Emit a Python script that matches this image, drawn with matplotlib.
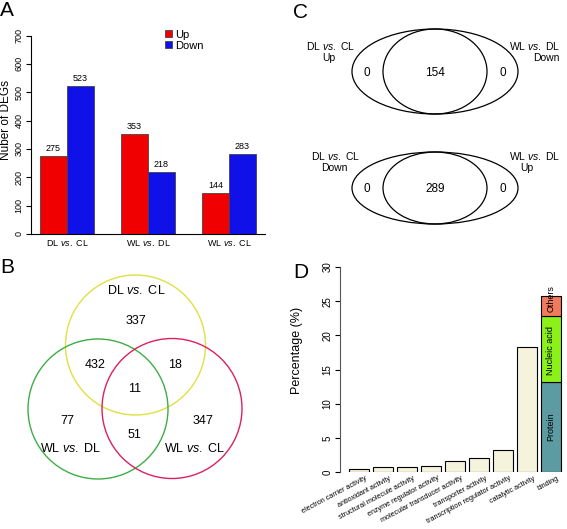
import matplotlib
matplotlib.use("Agg")
from matplotlib import pyplot as plt
from matplotlib.patches import Circle, Ellipse, Patch

plt.rcParams['font.family'] = ['Liberation Sans', 'DejaVu Sans']
plt.rcParams['mathtext.fontset'] = 'custom'
plt.rcParams['mathtext.rm'] = 'Liberation Sans'
plt.rcParams['mathtext.it'] = 'Liberation Sans:italic'
plt.rcParams['mathtext.bf'] = 'Liberation Sans:bold'

# ---- data ----
# A: number of DEGs
comparisons = [r"DL $\mathit{vs.}$ CL", r"WL $\mathit{vs.}$ DL", r"WL $\mathit{vs.}$ CL"]
up_counts = [275, 353, 144]
down_counts = [523, 218, 283]

# B: three-way venn (region counts)
venn3_sets = [r"DL $\mathit{vs.}$ CL", r"WL $\mathit{vs.}$ DL", r"WL $\mathit{vs.}$ CL"]
venn3_counts = {"dl_only": 337, "dl_wd": 432, "dl_wc": 18, "all": 11,
                "wd_only": 77, "wc_only": 347, "wd_wc": 51}

# C: two-way venns
venn_top = [0, 154, 0]
venn_bottom = [0, 289, 0]

# D: GO molecular function
go_terms = ["electron carrier activity", "antioxidant activity",
            "structural molecule activity", "enzyme regulator activity",
            "molecular transducer activity", "transporter activity",
            "transcription regulator activity", "catalytic activity"]
go_pct = [0.5, 0.7, 0.7, 0.9, 1.6, 2.0, 3.2, 18.3]
binding_parts = ["Protein", "Nucleic acid", "Others"]
binding_pct = [13.2, 9.6, 2.9]
binding_colors = ["#5c9ba2", "#8cf019", "#f27a5c"]

W, H = 567, 529
fig = plt.figure(figsize=(W / 100, H / 100), dpi=100)


def px_axes(l, t, r, b):
    return fig.add_axes([l / W, 1 - b / H, (r - l) / W, (b - t) / H])


# ---------- panel A ----------
axA = px_axes(31.4, 35.5, 264.6, 234)
xs = [1.5 + 3 * i for i in range(len(comparisons))]
b_up = axA.bar(xs, up_counts, width=1, color="#f00000", edgecolor="#444444", lw=0.6)
b_dn = axA.bar([x + 1 for x in xs], down_counts, width=1, color="#1010e8",
               edgecolor="#444444", lw=0.6)
for bars in (b_up, b_dn):
    for rect in bars:
        axA.annotate(f"{int(rect.get_height())}",
                     (rect.get_x() + rect.get_width() / 2, rect.get_height()),
                     xytext=(0, 2), textcoords="offset points",
                     ha="center", va="bottom", fontsize=6.5)
axA.set_xlim(0.68, 9.32)
axA.set_ylim(0, 700)
axA.set_yticks(range(0, 701, 100))
axA.tick_params(axis="y", labelsize=6.5, length=3.5, width=0.8, pad=2, labelrotation=90)
for lab in axA.get_yticklabels():
    lab.set_va("center")
axA.set_xticks([x + 0.5 for x in xs])
axA.set_xticklabels(comparisons, fontsize=6.5)
axA.tick_params(axis="x", length=0, pad=3)
axA.spines[["top", "right"]].set_visible(False)
axA.spines[["left", "bottom"]].set_linewidth(0.8)
axA.set_ylabel("Nuber of DEGs", fontsize=8.5)
axA.yaxis.set_label_coords(-0.083, 0.574)
axA.legend(handles=[Patch(facecolor="#f00000", edgecolor="#444444", lw=0.6, label="Up"),
                    Patch(facecolor="#1010e8", edgecolor="#444444", lw=0.6, label="Down")],
           loc="upper left", bbox_to_anchor=(0.575, 1.03), frameon=False, fontsize=8,
           handlelength=0.6, handleheight=0.6, handletextpad=0.3,
           labelspacing=0.1, borderpad=0, borderaxespad=0)

# ---------- panel D ----------
axD = px_axes(340, 267, 567, 472)
pos = list(range(len(go_terms)))
axD.bar(pos, go_pct, width=0.833, color="#f5f3dc", edgecolor="black", lw=0.8)
bottom = 0
bx = len(go_terms)
# "Others" text sticks out above its short segment, as in the original
nudge = {"Protein": 0, "Nucleic acid": -0.2, "Others": 1.1}
for part, val, col in zip(binding_parts, binding_pct, binding_colors):
    axD.bar(bx, val, bottom=bottom, width=0.833, color=col, edgecolor="black", lw=0.8)
    axD.text(bx, bottom + val / 2 + nudge[part], part, rotation=90,
             ha="center", va="center", fontsize=6.5)
    bottom += val
for i, name in enumerate(go_terms + ["binding"]):
    axD.text(i + 0.25, -0.4, name, rotation=28, ha="right", va="top",
             rotation_mode="anchor", fontsize=5.2)
axD.set_xlim(-0.792, 8.667)
axD.set_ylim(0, 30)
axD.set_xticks([])
axD.set_yticks(range(0, 31, 5))
axD.tick_params(axis="y", labelsize=7, length=3.5, width=0.8, pad=2, labelrotation=90)
for lab in axD.get_yticklabels():
    lab.set_va("center")
axD.spines[["top", "right", "bottom"]].set_visible(False)
axD.spines["left"].set_linewidth(0.8)
axD.spines["left"].set_color("#555555")
axD.set_ylabel("Percentage (%)", fontsize=9)
axD.yaxis.set_label_coords(-0.163, 0.595)
axD.patch.set_alpha(0)

# ---------- overlay for B, C and panel letters ----------
ov = fig.add_axes([0, 0, 1, 1])
ov.set_xlim(0, W)
ov.set_ylim(H, 0)
ov.axis("off")
ov.patch.set_alpha(0)

for letter, (x, y) in zip("ABCD", [(0, 16), (0, 273), (293, 18), (293, 278)]):
    ov.text(x, y, letter, fontsize=15, ha="left", va="baseline")

# B: three circles
ov.add_patch(Circle((135.5, 345), 70, fill=False, ec="#e0e040", lw=1))
ov.add_patch(Circle((98, 409), 70, fill=False, ec="#3cae45", lw=1))
ov.add_patch(Circle((172, 408.5), 70, fill=False, ec="#dc2060", lw=1))
b_pos = {"dl_only": (136, 321), "dl_wd": (95, 365), "dl_wc": (175, 365),
         "all": (135, 389), "wd_only": (67.5, 421), "wc_only": (203, 421),
         "wd_wc": (134, 435)}
for key, (x, y) in b_pos.items():
    ov.text(x, y, str(venn3_counts[key]), fontsize=9, ha="center", va="center")
for name, (x, y) in zip(venn3_sets, [(136, 290), (71, 448), (194.5, 448)]):
    ov.text(x, y, name, fontsize=9, ha="center", va="center")

# C: two-way venns
for cy, hh, counts in [(71.5, 85, venn_top), (188, 72, venn_bottom)]:
    ov.add_patch(Ellipse((435, cy), 166, hh, fill=False, ec="black", lw=0.9))
    ov.add_patch(Ellipse((435, cy), 104, hh, fill=False, ec="black", lw=0.9))
    for x, v in zip([367, 435, 503], counts):
        ov.text(x, cy + 1, str(v), fontsize=8.5, ha="center", va="center")

ov.text(330, 46, r"DL $\mathit{vs.}$ CL", fontsize=7.5, ha="center", va="center")
ov.text(329, 58, "Up", fontsize=7.5, ha="center", va="center")
ov.text(560, 46, r"WL $\mathit{vs.}$ DL", fontsize=7.5, ha="right", va="center")
ov.text(560, 58, "Down", fontsize=7.5, ha="right", va="center")
ov.text(335, 156, r"DL $\mathit{vs.}$ CL", fontsize=7.5, ha="center", va="center")
ov.text(334, 168, "Down", fontsize=7.5, ha="center", va="center")
ov.text(560, 156, r"WL $\mathit{vs.}$ DL", fontsize=7.5, ha="right", va="center")
ov.text(520, 168, "Up", fontsize=7.5, ha="left", va="center")

fig.savefig("out.png", dpi=100)
